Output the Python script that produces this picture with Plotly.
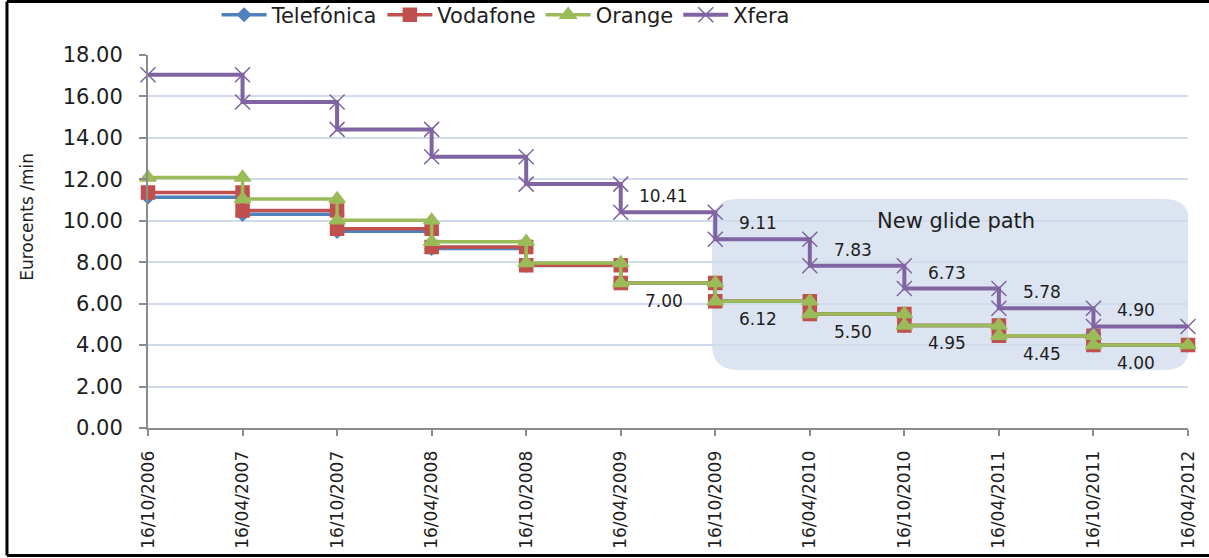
import plotly.graph_objects as go

# ---------------- data ----------------
dates = ["16/10/2006", "16/04/2007", "16/10/2007", "16/04/2008", "16/10/2008",
         "16/04/2009", "16/10/2009", "16/04/2010", "16/10/2010", "16/04/2011",
         "16/10/2011", "16/04/2012"]
# rate (eurocents/min) in force from dates[i] until dates[i+1]
telefonica = [11.14, 10.31, 9.49, 8.66, 7.84, 7.00, 6.12, 5.50, 4.95, 4.45, 4.00]
vodafone = [11.37, 10.49, 9.61, 8.73, 7.85, 7.00, 6.12, 5.50, 4.95, 4.45, 4.00]
orange = [12.09, 11.05, 10.02, 8.99, 7.96, 7.00, 6.12, 5.50, 4.95, 4.45, 4.00]
xfera = [17.05, 15.73, 14.41, 13.09, 11.77, 10.41, 9.11, 7.83, 6.73, 5.78, 4.90]
label_start = 5  # first period (16/04/2009) with value labels
yticks = [0, 2, 4, 6, 8, 10, 12, 14, 16, 18]

FONT = "DejaVu Sans"
TXT = "#1e1e1e"


def steps(vals):
    xs = [0]
    ys = [vals[0]]
    for i in range(1, len(vals)):
        xs += [i, i]
        ys += [vals[i - 1], vals[i]]
    xs.append(len(vals))
    ys.append(vals[-1])
    return xs, ys


series = [
    ("Telefónica", telefonica, "#4f81bd", "diamond", 10, 3.5),
    ("Vodafone", vodafone, "#c0504d", "square", 13, 3.5),
    ("Orange", orange, "#9bbb59", "triangle-up", 14, 3.5),
    ("Xfera", xfera, "#8064a2", "x-thin", 15, 4),
]

fig = go.Figure()
for name, vals, col, sym, size, lw in series:
    xs, ys = steps(vals)
    fig.add_trace(go.Scatter(
        x=xs, y=ys, name=name, mode="lines+markers",
        line=dict(color=col, width=lw),
        marker=dict(symbol=sym, size=size, color=col,
                    line=dict(color=col, width=1.5)),
        cliponaxis=False,
    ))

annotations = []
for i in range(label_start, len(xfera)):
    annotations.append(dict(x=i + 0.455, y=xfera[i], xref="x", yref="y",
                            text=f"{xfera[i]:.2f}", showarrow=False, yshift=16,
                            font=dict(family=FONT, size=17, color=TXT)))
    annotations.append(dict(x=i + 0.455, y=orange[i], xref="x", yref="y",
                            text=f"{orange[i]:.2f}", showarrow=False, yshift=-18,
                            font=dict(family=FONT, size=17, color=TXT)))

annotations.append(dict(x=8.55, y=10.0, xref="x", yref="y", text="New glide path",
                        showarrow=False, font=dict(family=FONT, size=21, color=TXT)))
annotations.append(dict(x=-0.128, y=0.566, xref="paper", yref="paper",
                        text="Eurocents /min", textangle=-90, showarrow=False,
                        font=dict(family=FONT, size=17, color=TXT)))

# rounded box for the new glide path
L, R, T, B, rx, ry = 5.965, 11.02, 11.05, 2.8, 0.27, 1.25
path = (f"M {L+rx},{T} L {R-rx},{T} Q {R},{T} {R},{T-ry} L {R},{B+ry} "
        f"Q {R},{B} {R-rx},{B} L {L+rx},{B} Q {L},{B} {L},{B+ry} "
        f"L {L},{T-ry} Q {L},{T} {L+rx},{T} Z")

shapes = [
    dict(type="path", path=path, xref="x", yref="y", layer="below",
         fillcolor="#dbe4f0", line=dict(width=0)),
    # outer frame (left, top, bottom)
    dict(type="line", xref="paper", yref="paper", x0=-0.1356, x1=-0.1356,
         y0=-0.342, y1=1.1434, line=dict(color="black", width=3)),
    dict(type="line", xref="paper", yref="paper", x0=-0.1356, x1=1.03,
         y0=1.1434, y1=1.1434, line=dict(color="black", width=3)),
    dict(type="line", xref="paper", yref="paper", x0=-0.1356, x1=1.03,
         y0=-0.342, y1=-0.342, line=dict(color="black", width=3)),
]

fig.update_layout(
    width=1209, height=558,
    margin=dict(l=148, r=21, t=55, b=130, autoexpand=False),
    paper_bgcolor="white", plot_bgcolor="white",
    font=dict(family=FONT, color=TXT),
    showlegend=True,
    legend=dict(orientation="h", x=0.066, xanchor="left", y=1.107, yanchor="middle",
                font=dict(family=FONT, size=21, color=TXT), itemwidth=45,
                bgcolor="rgba(0,0,0,0)"),
    annotations=annotations,
    shapes=shapes,
    xaxis=dict(
        range=[0, 11], tickmode="array", tickvals=list(range(len(dates))),
        ticktext=dates, tickangle=-90, showgrid=False, zeroline=False,
        showline=True, linecolor="#8c8c8c", linewidth=2,
        ticks="outside", ticklen=6, tickcolor="#8c8c8c", tickwidth=2,
        ticklabelstandoff=8, automargin=False,
        tickfont=dict(family=FONT, size=17, color=TXT),
    ),
    yaxis=dict(
        range=[0, 18], tickmode="array", tickvals=yticks,
        tickformat=".2f", showgrid=True, gridcolor="#d0dbeb", gridwidth=1.5,
        zeroline=False, showline=True, linecolor="#8c8c8c", linewidth=2,
        ticks="outside", ticklen=7, tickcolor="#8c8c8c", tickwidth=1.5,
        ticklabelstandoff=12, automargin=False,
        tickfont=dict(family=FONT, size=21, color=TXT),
    ),
)

fig.write_html("out.html", config={"displayModeBar": False},
               post_script="document.body.style.margin='0px';document.body.style.overflow='hidden';")
